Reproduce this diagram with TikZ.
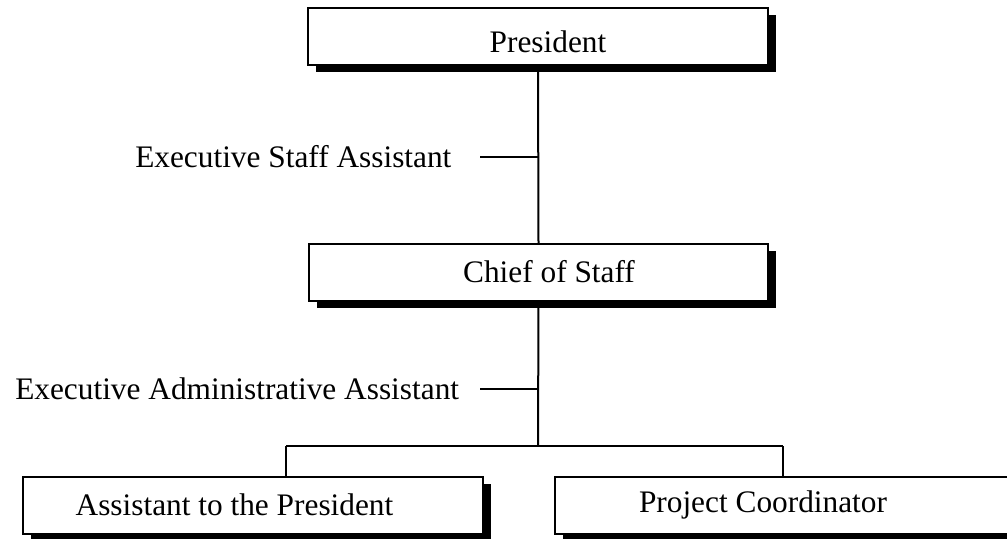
\documentclass[tikz,border=0pt]{standalone}
\usepackage{fontspec}
\setmainfont{Liberation Serif}
\usetikzlibrary{shadows}
\begin{document}
\begin{tikzpicture}[x=0.75pt,y=-0.75pt,
  box/.style={draw=black, line width=1.5pt, fill=white, rectangle, inner sep=0pt,
    drop shadow={shadow xshift=6pt, shadow yshift=-5pt, fill=black, opacity=1}},
  lbl/.style={font=\fontsize{23.5pt}{28pt}\selectfont, inner sep=0pt},
  conn/.style={line width=1.5pt}]
\useasboundingbox (0,0) rectangle (1007,539);
% boxes
\node[box, minimum width=345pt, minimum height=42.75pt] (pres) at (538,36.5) {};
\node[box, minimum width=344.25pt, minimum height=42.75pt] (chief) at (538.5,272.5) {};
\node[box, minimum width=345pt, minimum height=42.75pt] (asst) at (253,505.5) {};
\node[box, minimum width=345pt, minimum height=42.75pt] (proj) at (785,505.5) {};
% texts
\node[lbl, anchor=base] (presT) at (548,52) {President};
\node[lbl, anchor=base] (chiefT) at (549,282) {Chief of Staff};
\node[lbl, anchor=base] (asstT) at (234.5,515) {Assistant to the President};
\node[lbl, anchor=base] (projT) at (763,512) {Project Coordinator};
\node[lbl, anchor=base west] (esa) at (135,167) {Executive Staff Assistant};
\node[lbl, anchor=base west] (eaa) at (15,399) {Executive Administrative Assistant};
% connector points
\coordinate (t1a) at (480,157);
\coordinate (t1b) at (538,157);
\coordinate (t2a) at (480,389);
\coordinate (t2b) at (538,389);
\coordinate (bar) at (538,446);
\coordinate (barL) at (286,446);
\coordinate (barR) at (783,446);
\coordinate (dropL) at (286,477);
\coordinate (dropR) at (783,477);
% connectors
\draw[conn] (pres.south) -- (chief.north);
\draw[conn] (t1a) -- (t1b);
\draw[conn] (chief.south) -- (bar);
\draw[conn] (t2a) -- (t2b);
\draw[conn] (barL) -- (barR);
\draw[conn] (barL) -- (dropL);
\draw[conn] (barR) -- (dropR);
\end{tikzpicture}
\end{document}
